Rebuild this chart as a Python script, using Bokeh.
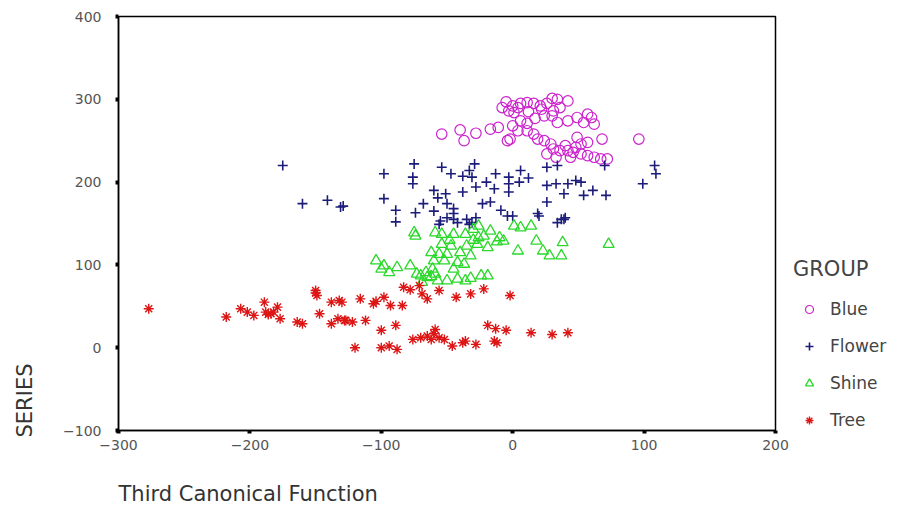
import math
from bokeh.plotting import figure
from bokeh.models import Range1d, FixedTicker, Legend, LegendItem, Title
from bokeh.embed import file_html
from bokeh.resources import INLINE

# ---- data ----
blue_x = [-54, -40, -37, -28, -17, -11, -5, 0, -3, 1, 6, 11, 16, 21, 26, 30, 34, 42, 6, 11, 17, 24, 30, 34, 42, 49, 57, 60, 62, 54,
          0, 4, -2, -4, 11, 16, 19, 24, 29, 31, 36, 42, 46, 52, 57, 62, 67, 72, 49, 57, 68, 96, 26, 33, 44, 31, 36, 22, -8, 48, 52, 40, 12, 4]
blue_y = [258, 263, 250, 259, 264, 266, 297, 292, 286, 284, 295, 296, 295, 292, 295, 301, 300, 298, 274, 271, 277, 280, 280, 272, 274, 278, 282, 278, 270, 272,
          268, 262, 252, 250, 262, 258, 252, 250, 246, 240, 238, 238, 236, 234, 232, 230, 228, 228, 254, 248, 252, 252, 234, 230, 230, 286, 290, 288, 290, 242, 246, 244, 285, 290]

flower_x = [-175, -160, -141, -131, -129, -98, -75, -76, -76, -54, -47, -98, -89, -89, -74, -68, -60, -57, -60, -55, -50, -45, -45, -51,
            -29, -33, -31, -13, -3, 6, 5, -3, 26, 34, 70, 108, 109, 99, 26, 33, 42, 48, 52, 26, 39, 54, 61, 71,
            -38, -28, -14, -3, -23, -17, -9, -4, 0, 19, 39, 34, -45, -50, -35, -28, -31, -56, -42, -33, 20, 37, 40, -38, -20, 12]
flower_y = [220, 174, 178, 170, 171, 210, 222, 206, 198, 218, 210, 180, 166, 152, 163, 174, 190, 181, 165, 153, 174, 168, 155, 186,
            222, 214, 206, 210, 206, 214, 200, 198, 218, 220, 220, 220, 210, 198, 196, 198, 198, 202, 200, 176, 186, 184, 190, 184,
            188, 194, 192, 188, 174, 176, 166, 159, 159, 162, 155, 151, 162, 157, 155, 157, 151, 149, 151, 149, 159, 155, 157, 207, 200, 205]

shine_x = [-75, -74, -59, -54, -45, -36, -30, -26, -17, -10, -7, 1, 6, 14, -26, 18, 4, 23, 28, 37, 38, 73, -54, -47, -35, -27, -19,
           -62, -56, -50, -40, -32, -60, -52, -42, -37, -104, -98, -94, -88, -78, -73, -66, -61, -65, -57, -50, -42, -36, -59, -69,
           -100, -70, -62, -24, -19, -32, -45, -30, -22, -12, -48]
shine_y = [139, 135, 139, 137, 137, 137, 143, 147, 141, 133, 129, 147, 145, 147, 133, 129, 117, 117, 111, 111, 127, 125, 125, 123, 123, 125, 121,
           115, 113, 113, 115, 111, 105, 105, 103, 101, 105, 99, 91, 97, 99, 89, 91, 95, 85, 81, 81, 83, 81, 89, 79,
           95, 87, 86, 87, 87, 84, 95, 130, 135, 128, 130]

tree_x = [-277, -218, -207, -202, -197, -189, -188, -184, -182, -186, -179, -177, -164, -160, -150, -149, -138, -132, -147, -138, -133, -127,
          -130, -116, -106, -98, -93, -84, -83, -71, -69, -65, -56, -43, -32, -22, -2, -128, -122, -112, -100, -89,
          -120, -100, -94, -88, -76, -70, -65, -59, -56, -52, -46, -38, -36, -28, -14, -12, -19, -13, -5, 14, 30, 42, -60, -62, -150, -104, -78]
tree_y = [47, 37, 47, 43, 39, 55, 43, 41, 43, 40, 49, 35, 31, 29, 69, 63, 55, 57, 41, 29, 35, 33,
          55, 59, 53, 61, 51, 51, 73, 75, 65, 59, 69, 61, 65, 71, 63, 33, 31, 33, 21, 27,
          0, 0, 2, -2, 10, 12, 14, 22, 12, 10, 2, 6, 8, 4, 8, 6, 27, 23, 21, 18, 16, 18, 17, 10, 66, 56, 70]

x_ticks = [-300, -200, -100, 0, 100, 200]
y_ticks = [-100, 0, 100, 200, 300, 400]
group_names = ["Blue", "Flower", "Shine", "Tree"]
x_title = "Third Canonical Function"
y_title = "SERIES"

FONT = "DejaVu Sans"

p = figure(frame_width=657, frame_height=414,
           min_border_left=118, min_border_top=16, min_border_right=110, min_border_bottom=76,
           x_range=Range1d(-300, 200), y_range=Range1d(-100, 400),
           output_backend="svg", toolbar_location=None)
p.background_fill_color = "white"
p.border_fill_color = "white"
p.outline_line_color = "black"
p.outline_line_width = 1.5
p.xgrid.visible = False
p.ygrid.visible = False

for ax, ticks in ((p.xaxis[0], x_ticks), (p.yaxis[0], y_ticks)):
    ax.ticker = FixedTicker(ticks=ticks)
    ax.axis_line_color = "black"
    ax.axis_line_width = 1.5
    ax.major_tick_line_color = "black"
    ax.major_tick_line_width = 4
    ax.major_tick_in = 0
    ax.major_tick_out = 3
    ax.minor_tick_line_color = None
    ax.major_label_text_font = FONT
    ax.major_label_text_font_size = "14px"
    ax.major_label_text_color = "#555555"
    # blank, tiny axis label: only reserves the gap before the outer title
    ax.axis_label = " "
    ax.axis_label_text_font_size = "1px"
    ax.axis_label_text_color = "white"

p.xaxis[0].major_label_standoff = 6
p.yaxis[0].major_label_standoff = 14
p.xaxis[0].axis_label_standoff = 23
p.yaxis[0].axis_label_standoff = 17

p.add_layout(Title(text=x_title, align="left", vertical_align="bottom", standoff=0, offset=0,
                   text_font=FONT, text_font_size="21px", text_font_style="normal",
                   text_color="#333333"), "below")
p.add_layout(Title(text=y_title, align="left", vertical_align="bottom", standoff=4, offset=-7,
                   text_font=FONT, text_font_size="21px", text_font_style="normal",
                   text_color="#333333"), "left")

r_blue = p.scatter(blue_x, blue_y, marker="circle", size=10.5, fill_color=None,
                   line_color="#cc22cc", line_width=1.2)
r_flower = p.scatter(flower_x, flower_y, marker="cross", size=10,
                     line_color="#1c1c7a", line_width=1.6)
r_shine = p.scatter(shine_x, shine_y, marker="triangle", size=11, fill_color=None,
                    line_color="#2ad82a", line_width=1.3)
r_tree = p.scatter(tree_x, tree_y, marker="asterisk", size=10,
                   line_color="#dd1515", line_width=1.4)

legend = Legend(items=[LegendItem(label=n, renderers=[r]) for n, r in
                       zip(group_names, [r_blue, r_flower, r_shine, r_tree])],
                location=(18, 0), title="GROUP",
                title_text_font=FONT, title_text_font_size="21px", title_text_color="#444444",
                title_text_font_style="normal", title_standoff=18,
                label_text_font=FONT, label_text_font_size="17px", label_text_color="#444444",
                glyph_width=32, glyph_height=20, label_height=20, label_standoff=5,
                spacing=17, padding=0, margin=0,
                border_line_color=None, background_fill_alpha=0)
p.add_layout(legend, "right")

open("out.html", "w").write(file_html(p, INLINE))
